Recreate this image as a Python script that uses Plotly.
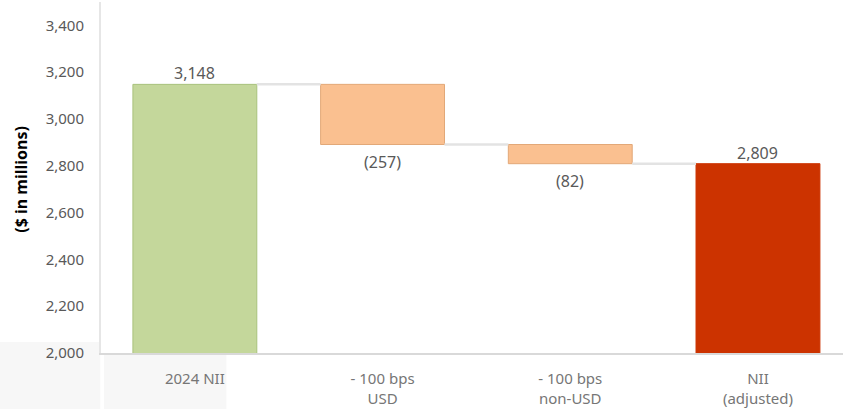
import plotly.graph_objects as go

categories = ["2024 NII", "- 100 bps<br>USD", "- 100 bps<br>non-USD", "NII<br>(adjusted)"]
start_value = 3148
changes = [-257, -82]
end_value = 2809
label_text = ["3,148", "(257)", "(82)", "2,809"]
colors = ["#c4d79b", "#fac090", "#fac090", "#cc3300"]
line_colors = ["#a9c27c", "#e2a878", "#e2a878", "#cc3300"]
y_ticks = [2000, 2200, 2400, 2600, 2800, 3000, 3200, 3400]

# compute bases/heights from data
levels = [start_value]
for c in changes:
    levels.append(levels[-1] + c)
bases, heights = [0], [start_value]
for i, c in enumerate(changes):
    lo = min(levels[i], levels[i + 1])
    bases.append(lo)
    heights.append(abs(c))
bases.append(0)
heights.append(end_value)
tops = [b + h for b, h in zip(bases, heights)]

xs = list(range(len(categories)))
bw = 0.66
font = "Noto Sans"

fig = go.Figure()
fig.add_trace(go.Bar(x=xs, y=heights, base=bases, width=bw,
                     marker=dict(color=colors, line=dict(color=line_colors, width=1)),
                     hoverinfo="skip"))

# connectors
for i in range(len(xs) - 1):
    lvl = levels[i]
    fig.add_trace(go.Scatter(x=[xs[i] + bw / 2, xs[i + 1] - bw / 2], y=[lvl, lvl],
                             mode="lines", line=dict(color="#e3e3e3", width=2.5),
                             hoverinfo="skip"))

# data labels
for i, t in enumerate(label_text):
    if i == 0 or i == len(label_text) - 1:
        fig.add_annotation(x=xs[i], y=tops[i], text=t, showarrow=False, yanchor="bottom",
                           yshift=-2, font=dict(family=font, size=16, color="#595959"))
    else:
        fig.add_annotation(x=xs[i], y=bases[i], text=t, showarrow=False, yanchor="top",
                           yshift=-4, font=dict(family=font, size=16, color="#595959"))

# y axis title
fig.add_annotation(xref="paper", yref="paper", x=-0.108, y=0.496, text="<b>($ in millions)</b>",
                   textangle=-90, showarrow=False, xanchor="center", yanchor="middle",
                   font=dict(family=font, size=16, color="#000000"))

# faint background patches in the reference
fig.add_shape(type="rect", xref="paper", yref="paper", x0=-0.14, x1=-0.001, y0=-0.17, y1=0.031,
              fillcolor="#f7f7f7", line=dict(width=0), layer="below")
fig.add_shape(type="rect", xref="paper", yref="paper", x0=0.004, x1=0.169, y0=-0.17, y1=-0.006,
              fillcolor="#f7f7f7", line=dict(width=0), layer="below")

fig.update_layout(
    width=843, height=409,
    margin=dict(l=101, r=0, t=2, b=56),
    paper_bgcolor="white", plot_bgcolor="rgba(0,0,0,0)",
    showlegend=False,
    font=dict(family=font, size=14, color="#595959"),
    xaxis=dict(range=[-0.5, 3.453], tickvals=xs, ticktext=categories, showgrid=False,
               zeroline=False, showline=True, linecolor="#d9d9d9", linewidth=2,
               automargin=False,
               ticks="", ticklabelstandoff=11, tickfont=dict(size=15, color="#767676")),
    yaxis=dict(range=[2000, 3500], tickvals=y_ticks, tickformat=",", showgrid=False,
               zeroline=False, showline=True, linecolor="#e6e6e6", linewidth=2,
               automargin=False,
               ticks="", ticklabelstandoff=12, tickfont=dict(size=15, color="#595959")),
)

fig.write_html("out.html", config={"displayModeBar": False},
               post_script="document.body.style.margin='0';document.body.style.overflow='hidden';")
